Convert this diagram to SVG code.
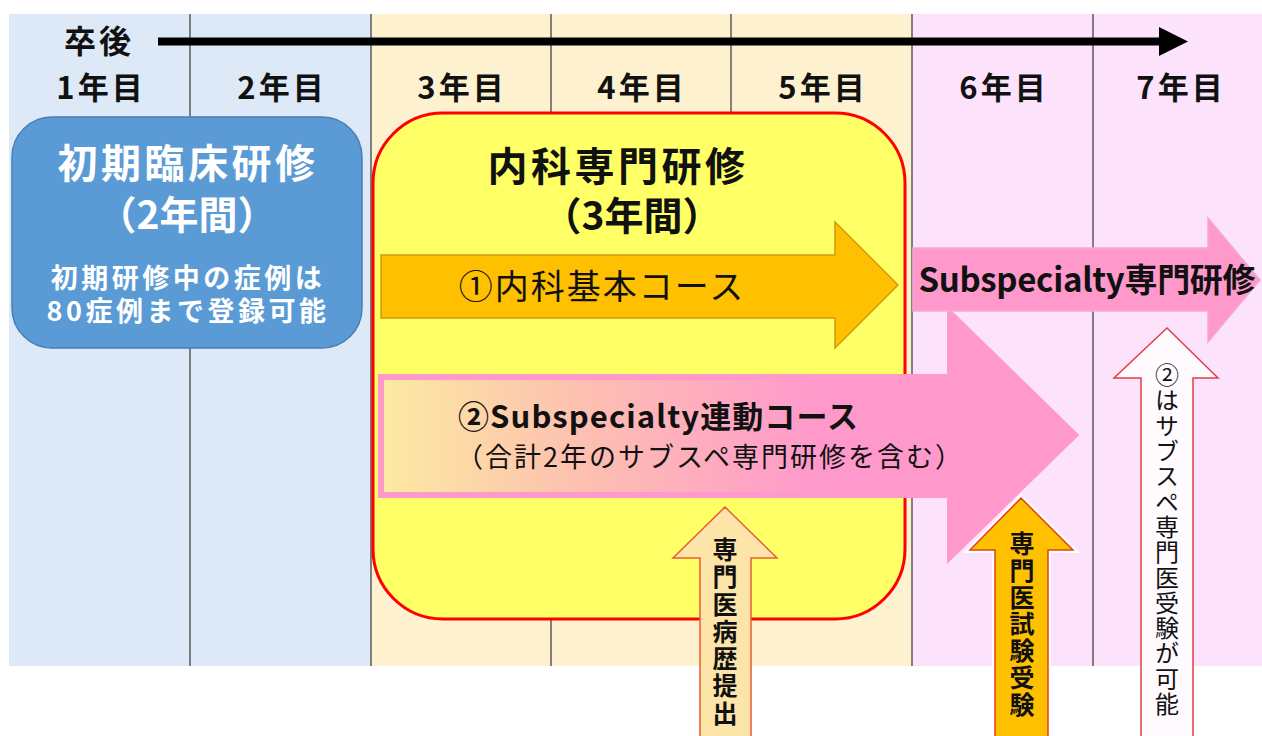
<svg xmlns="http://www.w3.org/2000/svg" width="1262" height="736" viewBox="0 0 1262 736">
<style>
text{font-family:"Noto Sans CJK JP","Noto Sans",sans-serif;}
.b{font-weight:bold;}
.yr{font-size:31px;font-weight:bold;letter-spacing:3px;text-anchor:middle;fill:#111;}
.col{stroke:#5a5a5a;stroke-width:1.5;}
.vt{writing-mode:vertical-rl;fill:#111;}
</style>
<defs>
<linearGradient id="g2" gradientUnits="userSpaceOnUse" x1="385" y1="0" x2="820" y2="0">
<stop offset="0" stop-color="#fde9a2"/>
<stop offset="0.45" stop-color="#fdc0b0"/>
<stop offset="1" stop-color="#ff99cc"/>
</linearGradient>
</defs>
<g id="background">
<rect x="9" y="14" width="362" height="652" fill="#dde9f6"/>
<rect x="371" y="14" width="541" height="652" fill="#fdf1d0"/>
<rect x="912" y="14" width="350" height="652" fill="#fde2fb"/>
<line class="col" x1="190" y1="14" x2="190" y2="666"/>
<line class="col" x1="371" y1="14" x2="371" y2="666"/>
<line class="col" x1="551" y1="14" x2="551" y2="666"/>
<line class="col" x1="731" y1="14" x2="731" y2="666"/>
<line class="col" x1="912" y1="14" x2="912" y2="666"/>
<line class="col" x1="1093" y1="14" x2="1093" y2="666"/>
</g>
<g id="connectors">
<line x1="158" y1="41.5" x2="1162" y2="41.5" stroke="#000" stroke-width="8"/>
<polygon points="1159,27 1188,41.5 1159,56" fill="#000"/>
</g>
<g id="header">
<text x="99" y="53" class="b" font-size="32" letter-spacing="3" text-anchor="middle" fill="#111">卒後</text>
<text class="yr" x="101" y="99">1年目</text>
<text class="yr" x="282" y="99">2年目</text>
<text class="yr" x="462" y="99">3年目</text>
<text class="yr" x="642" y="99">4年目</text>
<text class="yr" x="823" y="99">5年目</text>
<text class="yr" x="1004" y="99">6年目</text>
<text class="yr" x="1181" y="99">7年目</text>
</g>
<g id="node-initial">
<rect x="12" y="117" width="350" height="231" rx="40" fill="#5b9bd5" stroke="#4a7fb3" stroke-width="1.5"/>
<text x="188" y="178" class="b" font-size="40" letter-spacing="3.5" text-anchor="middle" fill="#fff">初期臨床研修</text>
<text x="187" y="229" class="b" font-size="39" text-anchor="middle" fill="#fff">（2年間）</text>
<text x="188" y="288" class="b" font-size="27" letter-spacing="3.5" text-anchor="middle" fill="#fff">初期研修中の症例は</text>
<text x="188" y="321" class="b" font-size="27" letter-spacing="3.5" text-anchor="middle" fill="#fff">80症例まで登録可能</text>
</g>
<g id="node-internal">
<rect x="373" y="113" width="532" height="506" rx="70" fill="#ffff66" stroke="#ff0000" stroke-width="3"/>
<text x="618" y="181" class="b" font-size="40" letter-spacing="3.5" text-anchor="middle" fill="#111">内科専門研修</text>
<text x="632" y="230" class="b" font-size="39" text-anchor="middle" fill="#111">（3年間）</text>
</g>
<g id="node-course1">
<polygon points="381,255 835,255 835,222 898,285 835,348 835,318 381,318" fill="#ffc000" stroke="#d09a10" stroke-width="1.5"/>
<text x="602" y="299" font-size="34" letter-spacing="2" text-anchor="middle" fill="#111">①内科基本コース</text>
</g>
<g id="node-course2">
<polygon points="381,377 950,377 950,313 1075,435 950,557 950,495 381,495" fill="url(#g2)" stroke="#ff99cc" stroke-width="6" stroke-linejoin="miter"/>
<text x="458" y="428" class="b" font-size="31" textLength="400" fill="#111">②Subspecialty連動コース</text>
<text x="710" y="467" font-size="27" letter-spacing="2" text-anchor="middle" fill="#111">（合計2年のサブスペ専門研修を含む）</text>
</g>
<g id="node-subspecialty">
<polygon points="913,248 1208,248 1208,218 1260,280 1208,342 1208,311 913,311" fill="#ff99cc" stroke="#f5a8d4" stroke-width="1.5"/>
<text x="1087" y="292" class="b" font-size="33" textLength="337" text-anchor="middle" fill="#111">Subspecialty専門研修</text>
</g>
<g id="node-casereport">
<polygon points="725,507 777,558 751,558 751,740 700,740 700,558 673,558" fill="#fde4a8" stroke="#ee5a36" stroke-width="1.5"/>
<text class="vt b" x="725" y="537" font-size="25" letter-spacing="2.3">専門医病歴提出</text>
</g>
<g id="node-exam">
<polygon points="1021,498 1073,550 1048,550 1048,740 995,740 995,550 970,550" fill="none" stroke="#ffffff" stroke-width="6"/>
<polygon points="1021,498 1073,550 1048,550 1048,740 995,740 995,550 970,550" fill="#ffc000" stroke="#e0401a" stroke-width="1.5"/>
<text class="vt b" x="1022" y="531" font-size="25" letter-spacing="1.8">専門医試験受験</text>
</g>
<g id="node-subexam">
<polygon points="1167,328 1218,378 1193,378 1193,740 1141,740 1141,378 1114,378" fill="#fffafd" stroke="#e04040" stroke-width="1.5"/>
<text class="vt" x="1167" y="363" font-size="24" letter-spacing="1.3">②はサブスペ専門医受験が可能</text>
</g>
</svg>
